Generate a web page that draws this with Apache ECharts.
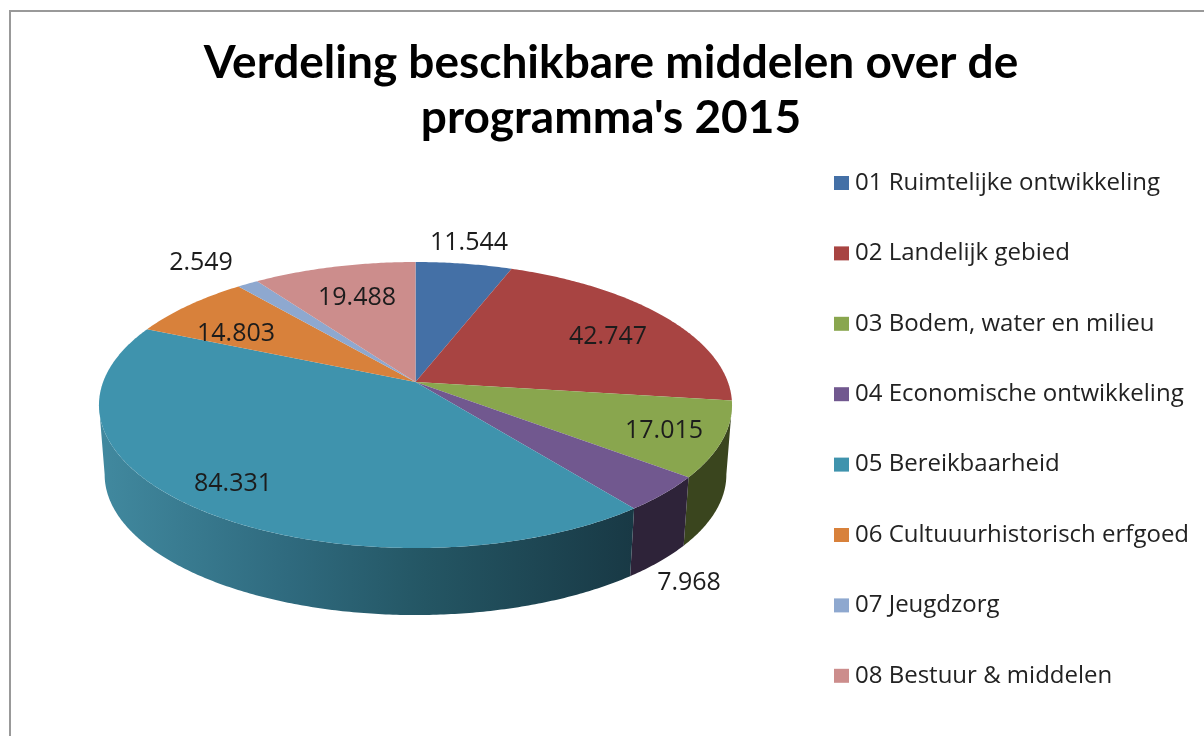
<!DOCTYPE html>
<html lang="nl" style="height: 100%">
<head>
<meta charset="UTF-8">
<script src="https://cdn.jsdelivr.net/npm/echarts@6/dist/echarts.min.js"></script>
</head>
<body style="height: 100%; margin: 0; background: #fff">
<div id="container" style="width: 1204px; height: 736px"></div>
<script>
// values as printed on the chart (dot = thousands separator)
var categories = ['01 Ruimtelijke ontwikkeling', '02 Landelijk gebied', '03 Bodem, water en milieu',
    '04 Economische ontwikkeling', '05 Bereikbaarheid', '06 Cultuuurhistorisch erfgoed',
    '07 Jeugdzorg', '08 Bestuur & middelen'];
var values = [11544, 42747, 17015, 7968, 84331, 14803, 2549, 19488];
var topColors = ['#4470a6', '#a84442', '#89a64e', '#71588f', '#3f93ad', '#d8813b', '#8ea8cf', '#cc8d8c'];
var labelAnchors = [[469, 243], [608, 337], [664, 431], [689, 583], [233, 484], [236, 334], [201, 263], [357, 298]];

// projected disc, the tilt makes the apex sit above the middle of the ellipse
var cx = 415.5, topY = 382, bottomY = 452;
var topA = 312.4, topB = 139.3, bottomA = 306.8, bottomB = 136.8;
var tilt = 0.161;
var hiddenUntil = Math.acos(-tilt);

var total = values.reduce(function (a, b) { return a + b; }, 0);

function formatValue(v) {
    return String(v).replace(/\B(?=(\d{3})+$)/g, '.');
}

function project(angle, a, b, y0) {
    var u = Math.sin(angle), v = -Math.cos(angle);
    var w = 1 - tilt * v;
    return [cx + a * u / w, y0 + b * v / w];
}

function arc(from, to, a, b, y0) {
    var pts = [];
    var steps = Math.max(2, Math.ceil((to - from) / 0.01));
    for (var i = 0; i <= steps; i++) {
        pts.push(project(from + (to - from) * i / steps, a, b, y0));
    }
    return pts;
}

var sideFills = [
    null, null,
    '#3a451e',
    '#2e2339',
    new echarts.graphic.LinearGradient(100, 0, 640, 0, [
        { offset: 0, color: '#41899f' },
        { offset: 0.35, color: '#2f6a7e' },
        { offset: 0.6, color: '#245664' },
        { offset: 1, color: '#183844' }
    ], true),
    null, null, null
];

function makeRender(index) {
    return function (params, api) {
        var before = 0;
        for (var i = 0; i < index; i++) before += values[i];
        var from = before / total * Math.PI * 2;
        var to = from + api.value(0) / total * Math.PI * 2;
        var children = [];

        var sideFrom = Math.max(from, hiddenUntil);
        var sideTo = Math.min(to, Math.PI * 2 - hiddenUntil);
        if (sideTo > sideFrom) {
            var rim = arc(sideFrom, sideTo, topA, topB, topY)
                .concat(arc(sideFrom, sideTo, bottomA, bottomB, bottomY).reverse());
            children.push({
                type: 'polygon',
                shape: { points: rim },
                style: { fill: sideFills[index] || topColors[index] }
            });
        }

        children.push({
            type: 'polygon',
            shape: { points: [[cx, topY]].concat(arc(from, to, topA, topB, topY)) },
            style: { fill: topColors[index] }
        });

        children.push({
            type: 'text',
            z2: 10,
            style: {
                text: formatValue(api.value(0)),
                x: labelAnchors[index][0],
                y: labelAnchors[index][1],
                align: 'center',
                verticalAlign: 'middle',
                fill: '#1c1c1c',
                font: '25px "Open Sans"'
            }
        });
        return { type: 'group', children: children };
    };
}

var chart = echarts.init(document.getElementById('container'));
chart.setOption({
    animation: false,
    backgroundColor: '#fff',
    title: {
        text: "Verdeling beschikbare middelen over de\nprogramma's 2015",
        left: 606,
        top: 31,
        textAlign: 'center',
        textStyle: {
            fontFamily: 'Lato',
            fontWeight: 'bold',
            fontSize: 46,
            lineHeight: 55,
            color: '#000'
        }
    },
    legend: {
        orient: 'vertical',
        left: 834,
        top: 171,
        padding: 0,
        icon: 'rect',
        itemWidth: 15,
        itemHeight: 14,
        itemGap: 46.4,
        selectedMode: false,
        textStyle: {
            fontFamily: 'Open Sans',
            fontSize: 24,
            lineHeight: 24,
            color: '#222',
            padding: [0, 0, 0, 1]
        },
        data: categories
    },
    graphic: [{
        type: 'rect',
        silent: true,
        z: -1,
        shape: { x: 10, y: 11, width: 1300, height: 900 },
        style: { fill: '#fff', stroke: '#999', lineWidth: 2 }
    }],
    series: categories.map(function (name, i) {
        return {
            type: 'custom',
            name: name,
            coordinateSystem: 'none',
            silent: true,
            itemStyle: { color: topColors[i] },
            renderItem: makeRender(i),
            data: [[values[i]]]
        };
    })
});
</script>
</body>
</html>
